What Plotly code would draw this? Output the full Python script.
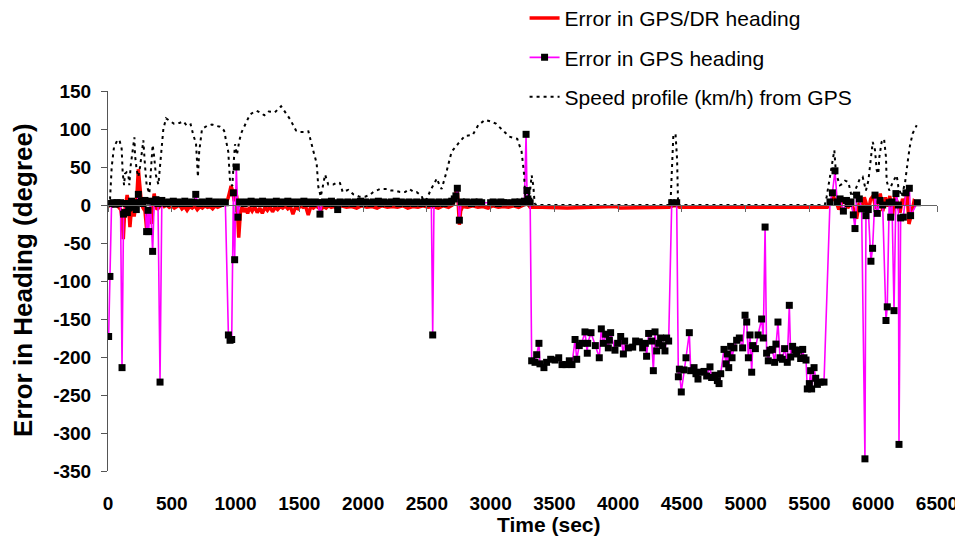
import plotly.graph_objects as go

# ---------------- data ----------------
# Error in GPS/DR heading (degree)
dr_t = [0, 20, 40, 60, 80, 100, 112, 120, 130, 142, 150, 160, 172, 182, 195, 205, 215, 225, 238, 250,
        262, 275, 290, 303, 313, 325, 343, 355, 362, 372, 385, 400, 420, 440, 460, 480, 500, 520, 540, 560,
        580, 600, 620, 640, 660, 680, 700, 720, 740, 760, 780, 800, 820, 840, 860, 880, 900, 920, 940, 955,
        965, 978, 990, 1000, 1010, 1025, 1038, 1050, 1065, 1080, 1095, 1110, 1130, 1150, 1170, 1190, 1210, 1230, 1250, 1270,
        1290, 1310, 1330, 1350, 1370, 1390, 1410, 1430, 1450, 1470, 1490, 1510, 1530, 1550, 1570, 1590, 1610, 1630, 1650, 1670,
        1690, 1710, 1730, 1750, 1770, 1790, 1830, 1870, 1910, 1950, 1990, 2030, 2070, 2110, 2150, 2190, 2230, 2270, 2310, 2350,
        2390, 2430, 2470, 2510, 2550, 2590, 2630, 2670, 2700, 2720, 2735, 2745, 2755, 2765, 2780, 2820, 2860, 2900, 2940, 2980,
        3020, 3060, 3100, 3140, 3180, 3220, 3260, 3275, 3290, 3310, 3400, 3600, 3800, 3990, 4010, 4200, 4400, 4430, 4460, 4480,
        4700, 5000, 5300, 5640, 5660, 5690, 5710, 5730, 5750, 5780, 5800, 5830, 5850, 5870, 5890, 5910, 5930, 5945, 5960, 5980,
        6000, 6020, 6040, 6055, 6075, 6095, 6115, 6130, 6150, 6170, 6190, 6210, 6230, 6250, 6265, 6280, 6300, 6320, 6335]
dr_v = [-2, 0, -1, 0, -2, -6, -20, -45, -10, 10, 13, 3, -29, -8, -2, -15, 0, 8, 47, 18,
        2, -4, -8, -32, -12, -5, -25, 5, 15, 3, -6, -3, 2, -2, 0, -3, -1, -4, -2, 0,
        -5, -2, -7, -2, -4, -1, -6, -2, -4, -1, -3, -2, -5, -1, -3, -2, 0, 2, 8, 18,
        25, 18, 5, 20, 10, -43, -10, -3, -9, -4, -11, -3, -8, -2, -10, -4, -11, -3, -7, -2,
        -9, -3, -6, -2, -4, -1, -5, -2, -12, -3, -5, -1, -3, -2, -13, -2, -4, -1, -3, -6,
        -2, -4, -1, -3, -2, -4, -1, -3, -2, -4, -1, -3, -2, -4, -1, -3, -2, -3, -1, -4,
        -2, -3, -1, -3, -2, -4, -1, -3, 0, 8, 22, 5, -26, -8, -2, -3, -1, -3, -2, -4,
        -1, -3, -2, -3, -1, -3, 0, 5, 2, -3, -3, -4, -3, -2, -4, -3, -3, -1, -1, -3,
        -3, -3, -3, -3, 2, 10, 4, -6, 2, 6, -4, 3, -8, -18, 3, -6, 10, 2, -10, 8,
        12, -5, 6, 15, -8, 10, -2, 12, -15, 12, 3, -10, 8, 0, 18, -25, -12, 5, 3]

# Error in GPS heading (degree)
gps_t = [5, 15, 28, 42, 56, 70, 84, 98, 110, 122, 132, 142, 152, 162, 172, 185, 198, 210, 222, 238,
         250, 262, 275, 290, 303, 314, 319, 332, 350, 362, 376, 392, 408, 422, 440, 458, 476, 494, 512, 530,
         548, 566, 584, 602, 620, 638, 656, 674, 688, 702, 720, 738, 756, 774, 792, 810, 828, 846, 864, 882,
         900, 920, 944, 957, 970, 983, 993, 1006, 1019, 1032, 1050, 1068, 1086, 1104, 1122, 1140, 1158, 1176, 1194, 1212,
         1230, 1248, 1266, 1284, 1302, 1320, 1338, 1356, 1374, 1392, 1410, 1428, 1446, 1464, 1482, 1500, 1518, 1536, 1554, 1572,
         1590, 1608, 1626, 1644, 1662, 1680, 1698, 1716, 1734, 1752, 1770, 1788, 1801, 1820, 1840, 1860, 1880, 1900, 1920, 1940,
         1960, 1980, 2000, 2020, 2040, 2060, 2080, 2100, 2120, 2140, 2160, 2180, 2200, 2220, 2240, 2260, 2280, 2300, 2320, 2340,
         2360, 2380, 2400, 2420, 2440, 2460, 2480, 2500, 2520, 2535, 2546, 2556, 2575, 2595, 2615, 2635, 2655, 2675, 2695, 2715,
         2728, 2739, 2755, 2770, 2790, 2810, 2830, 2850, 2870, 2890, 2910, 2930, 3000, 3020, 3040, 3060, 3080, 3100, 3120, 3170,
         3190, 3210, 3230, 3250, 3265, 3278, 3285, 3292, 3300, 3310,
         3322, 3348, 3361, 3379, 3387, 3418, 3439, 3471, 3505, 3534, 3560, 3591, 3617, 3638, 3662, 3675, 3695, 3714, 3740, 3758,
         3761, 3787, 3821, 3852, 3868, 3884, 3902, 3923, 3931, 3941, 3975, 3996, 4020, 4041, 4051, 4080, 4114, 4137, 4166, 4192,
         4213, 4223, 4239, 4263, 4276, 4289, 4302, 4318, 4333, 4349, 4367, 4380, 4396, 4420, 4459,
         4472, 4480, 4495, 4516, 4532, 4558, 4569, 4595, 4610, 4626, 4642, 4673, 4694, 4720, 4733, 4759, 4778, 4791, 4804, 4830,
         4846, 4856, 4867, 4882, 4893, 4908, 4929, 4950, 4976, 4995, 5008, 5021, 5034, 5047, 5055, 5076, 5097, 5125, 5138, 5152,
         5164, 5177, 5190, 5209, 5227, 5237, 5253, 5269, 5287, 5305, 5326, 5342, 5353, 5368, 5386, 5399, 5415, 5431, 5447, 5457,
         5473, 5483, 5499, 5509, 5517, 5536, 5549, 5562, 5583, 5614,
         5661, 5680, 5700, 5718, 5740, 5766, 5790, 5805, 5825, 5844, 5857, 5870, 5891, 5909, 5935, 5943, 5961, 5982, 5995, 6014,
         6032, 6053, 6074, 6100, 6110, 6125, 6137, 6147, 6163, 6178, 6197, 6202, 6215, 6236, 6257, 6283, 6293, 6346]
gps_v = [-173, -94, 2, 3, 1, 3, 2, 3, -214, -12, -10, 2, -10, -4, 2, 5, -3, 3, -6, 14,
         3, 5, 2, 6, -35, -7, -35, 5, -61, 4, 7, 2, -233, 6, 3, 2, 4, 3, 5, 2,
         4, 3, 2, 5, 3, 2, 4, 3, 14, 3, 2, 4, 3, 2, 5, 3, 2, 4, 3, 2,
         4, 3, -171, -178, -177, 16, -72, 50, -16, 4, 3, 2, 4, 3, 5, 2, 4, 3, 2, 5,
         3, 2, 4, 3, 2, 5, 3, 2, 4, 3, 5, 2, 4, 3, 2, 4, 3, 5, 2, 4,
         3, 2, 4, 3, -12, 3, 4, 2, 3, 5, 2, 3, -6, 4, 3, 2, 4, 3, 2, 4,
         3, 5, 2, 4, 3, 2, 4, 3, 5, 2, 4, 3, 2, 4, 3, 5, 2, 4, 3, 2,
         4, 3, 2, 4, 3, 2, 4, 3, 2, 4, -171, 3, 2, 4, 3, 2, 4, 3, 5, 8,
         12, 22, -20, 4, 3, 4, 3, 2, 4, 3, 4, 3, 3, 4, 3, 2, 4, 3, 3, 3,
         4, 2, 4, 3, 5, 93, 19, 8, 5, 3,
         -205, -207, -197, -182, -209, -214, -207, -203, -204, -201, -210, -210, -205, -210, -177, -203, -185, -182, -167, -195,
         -182, -168, -185, -201, -163, -182, -170, -188, -178, -168, -191, -182, -173, -196, -179, -188, -187, -179, -180, -188,
         -182, -199, -169, -179, -218, -167, -192, -182, -175, -185, -192, -175, -179, 3, 3,
         -226, -216, -246, -217, -201, -168, -218, -214, -222, -229, -220, -219, -225, -213, -227, -224, -231, -235, -222, -190,
         -209, -196, -214, -186, -201, -188, -178, -175, -188, -145, -154, -201, -171, -220, -185, -189, -171, -150, -175, -29,
         -195, -205, -191, -190, -207, -183, -154, -201, -203, -189, -207, -132, -200, -186, -191, -196, -191, -202, -190, -201,
         -204, -242, -235, -218, -242, -214, -228, -236, -233, -233,
         4, 16, 45, 4, 8, -8, 6, 2, 4, -13, -31, 13, 8, -5, -334, -14, -6, -74, -57, 13,
         -11, 6, 0, -152, -134, 3, -16, 4, -139, 15, 0, -315, -17, -16, 16, 22, -14, 3]

# Speed profile (km/h) from GPS
spd_t = [0, 10, 16, 29, 47, 70, 89, 107, 115, 126, 133, 146, 160, 167, 178, 194, 207, 212, 225, 238,
         251, 269, 277, 290, 303, 324, 350, 361, 376, 395, 408, 423, 434, 455, 486, 517, 560, 591, 620, 648,
         669, 690, 700, 705, 715, 737, 775, 815, 850, 878, 910, 943, 957, 975, 985, 996, 1011, 1030, 1048, 1074,
         1113, 1140, 1166, 1200, 1226, 1260, 1309, 1357, 1390, 1427, 1474, 1505, 1537, 1571, 1610, 1636, 1649, 1668, 1685, 1702,
         1727, 1767, 1800, 1819, 1840, 1884, 1924, 1970, 2015, 2050, 2080, 2133, 2185, 2220, 2250, 2290, 2329, 2363, 2400, 2420,
         2459, 2475, 2500, 2530, 2564, 2577, 2600, 2616, 2650, 2668, 2694, 2747, 2799, 2859, 2903, 2956, 3000, 3042, 3086, 3146,
         3209, 3243, 3261, 3272, 3290, 3310, 3322, 3335, 3345, 3360, 4410, 4425, 4433, 4450, 4462, 4470, 5620, 5635, 5674, 5695,
         5708, 5739, 5760, 5779, 5805, 5831, 5860, 5896, 5917, 5943, 5962, 5975, 5996, 6014, 6027, 6040, 6048, 6066, 6085, 6100,
         6105, 6126, 6158, 6184, 6197, 6223, 6250, 6275, 6288, 6309, 6341]
spd_v = [0, 0, 8, 50, 76, 84, 86, 74, 43, 26, 41, 43, 39, 26, 52, 76, 89, 65, 46, 37,
         50, 74, 85, 52, 26, 15, 79, 65, 39, 27, 52, 74, 100, 114, 110, 107, 108, 110, 104, 106,
         92, 81, 52, 37, 70, 100, 104, 106, 104, 103, 98, 70, 31, 25, 55, 80, 66, 85, 96, 106,
         119, 122, 124, 121, 118, 123, 122, 130, 122, 113, 98, 96, 96, 97, 71, 55, 24, 11, 25, 40,
         27, 27, 30, 29, 17, 20, 14, 11, 11, 13, 17, 21, 21, 19, 19, 17, 17, 21, 17, 17,
         12, 5, 8, 20, 30, 35, 26, 21, 41, 54, 70, 81, 91, 92, 105, 112, 110, 107, 100, 90,
         87, 70, 43, 10, 5, 20, 39, 25, 2, 0, 0, 50, 93, 93, 60, 0, 0, 11, 48, 72,
         41, 26, 28, 32, 30, 11, 20, 35, 37, 19, 32, 54, 83, 72, 46, 41, 63, 83, 87, 63,
         32, 19, 32, 39, 24, 11, 30, 63, 78, 94, 105]

x_ticks = [0, 500, 1000, 1500, 2000, 2500, 3000, 3500, 4000, 4500, 5000, 5500, 6000, 6500]
y_ticks = [150, 100, 50, 0, -50, -100, -150, -200, -250, -300, -350]

FONT = "Liberation Sans, Arial, sans-serif"

fig = go.Figure()
fig.add_trace(go.Scatter(x=dr_t, y=dr_v, mode="lines", name="Error in GPS/DR heading",
                         line=dict(color="#FF0000", width=3.5), legendgroup="a"))
fig.add_trace(go.Scatter(x=gps_t, y=gps_v, mode="lines+markers", name="Error in GPS heading",
                         line=dict(color="#FF00FF", width=1.6),
                         marker=dict(symbol="square", size=7, color="black"), legendgroup="b"))
fig.add_trace(go.Scatter(x=spd_t, y=spd_v, mode="lines", name="Speed profile (km/h) from GPS",
                         xaxis="x2",
                         line=dict(color="black", width=2, dash="3px,4px"), legendgroup="c"))

# the page body adds an 8px margin, so the figure is 8px smaller than the window
fig.update_layout(
    width=955, height=530,
    margin=dict(l=100, r=26, t=83, b=67, autoexpand=False),
    paper_bgcolor="white", plot_bgcolor="white",
    font=dict(family=FONT, color="black"),
    showlegend=True,
    legend=dict(x=0.5025, y=1.245, xanchor="left", yanchor="top",
                font=dict(family=FONT, size=21, color="black"),
                tracegroupgap=9, bgcolor="rgba(0,0,0,0)"),
    xaxis=dict(range=[0, 6500], tickvals=x_ticks, ticktext=[str(v) for v in x_ticks],
               showline=False, showgrid=False, zeroline=False, ticks="",
               ticklabelstandoff=19,
               tickfont=dict(family=FONT, size=19, color="black", weight="bold")),
    xaxis2=dict(range=[0, 6500], overlaying="x", anchor="free", position=0.7,
                tickvals=x_ticks, showticklabels=False, showline=True, linecolor="#666666",
                linewidth=1, ticks="outside", ticklen=6, tickcolor="#666666",
                showgrid=False, zeroline=False),
    yaxis=dict(range=[-350, 150], tickvals=y_ticks, ticktext=[str(v) for v in y_ticks],
               showline=True, linecolor="#555555", linewidth=1, ticks="outside", ticklen=6,
               tickcolor="#555555", showgrid=False, zeroline=False, ticklabelstandoff=6,
               tickfont=dict(family=FONT, size=19, color="black", weight="bold")),
    annotations=[
        dict(text="<b>Time (sec)</b>", xref="paper", yref="paper", x=0.532, y=-0.142,
             xanchor="center", yanchor="middle", showarrow=False,
             font=dict(family=FONT, size=21, color="black")),
        dict(text="<b>Error in Heading (degree)</b>", xref="paper", yref="paper",
             x=-0.1025, y=0.503, xanchor="center", yanchor="middle", textangle=-90,
             showarrow=False, font=dict(family=FONT, size=26, color="black")),
    ],
)

fig.write_html("out.html")
